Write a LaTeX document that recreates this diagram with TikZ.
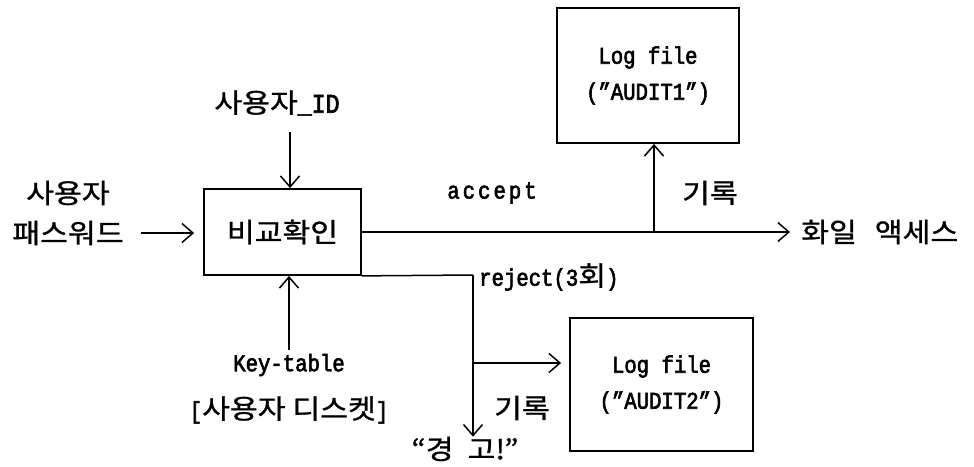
\documentclass[tikz,border=0pt]{standalone}
\usepackage{fontspec}
\setmainfont{Liberation Mono}[FakeBold=2.5,FakeStretch=0.86]
\newfontfamily\krfont{Noto Sans CJK KR}[FakeBold=1.0,FakeStretch=1.12]
\newcommand\hk[1]{{\krfont\fontsize{27}{30}\selectfont #1}}
\usetikzlibrary{arrows.meta}

\begin{document}
\begin{tikzpicture}[x=1pt,y=-1pt,
  every node/.style={inner sep=0pt,font=\fontsize{24}{36}\selectfont},
  box/.style={draw,line width=1.8pt,align=center},
  ln/.style={line width=1.5pt},
  arr/.style={line width=1.5pt,-{Straight Barb[length=11pt,width=19pt,line width=1.5pt]}}]
\useasboundingbox (0,0) rectangle (974,466);

% boxes
\node[box,minimum width=157pt,minimum height=86pt] (cmp) at (282.5,232) {\hk{비교확인}};
\node[box,minimum width=182pt,minimum height=135pt] (log1) at (648,75.5) {Log file\\("AUDIT1")};
\node[box,minimum width=183pt,minimum height=133pt] (log2) at (661.5,384.5) {Log file\\("AUDIT2")};

% labels
\node (id) at (277,103) {\hk{사용자}{\fontsize{27}{30}\selectfont\_ID}};
\node (user) at (68,193) {\hk{사용자}};
\node (pw) at (68,233) {\hk{패스워드}};
\node (acc) at (492,193) {a\hspace{3pt}c\hspace{3pt}c\hspace{3pt}e\hspace{3pt}p\hspace{3pt}t};
\node (rec1) at (710,193) {\hk{기록}};
\node[anchor=west] (access) at (801,232) {\hk{화일\hspace{18pt}액세스}};
\node[anchor=west] (rej) at (479,277) {reject(3\hk{회})};
\node (key) at (289,365) {Key-table};
\node (disk) at (289,410) {[\hk{사용자 디스켓}]};
\node (rec2) at (522,408) {\hk{기록}};
\node (warn) at (465,449) {\hk{“경\hspace{14pt}고!”}};

% free ends and junctions
\coordinate (idfoot) at (290,132);
\coordinate (keytop) at (289,350);
\coordinate (j1) at (654,232);
\coordinate (corner) at (473,275);
\coordinate (j2) at (473,363);

% connectors
\draw[arr] (idfoot) -- (idfoot |- cmp.north);
\draw[arr] (keytop) -- (keytop |- cmp.south);
\draw[arr,shorten <=17pt,shorten >=9pt] (pw.east) -- (pw.east -| cmp.west);
\draw[arr,shorten >=11pt] (cmp.east) -- (cmp.east -| access.west);
\draw[arr] (j1) -- (j1 |- log1.south);
\draw[ln] (cmp.south east) -- (corner);
\draw[arr] (corner) -- (corner |- warn.north);
\draw[arr,shorten >=8pt] (j2) -- (j2 -| log2.west);
\end{tikzpicture}
\end{document}
